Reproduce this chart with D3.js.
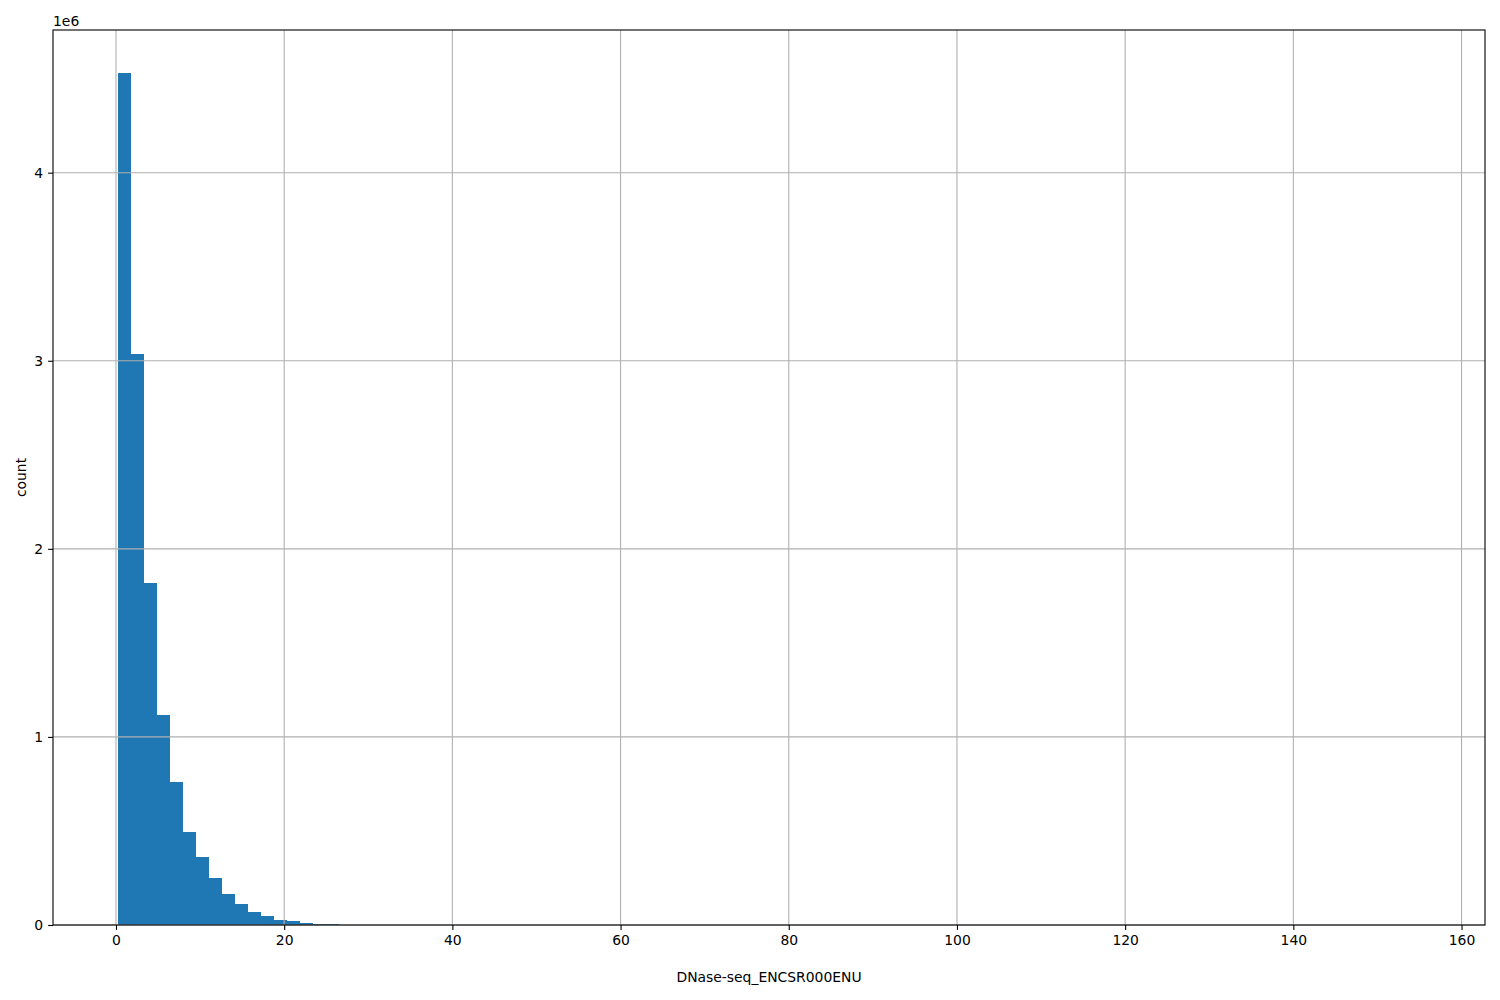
<!DOCTYPE html>
<html><head><meta charset="utf-8">
<script src="https://cdn.jsdelivr.net/npm/d3@7"></script>
<style>body{margin:0;background:#fff}svg{display:block}text{font-family:"DejaVu Sans",sans-serif}</style>
</head><body>
<svg id="c" width="1500" height="1000"></svg>
<script>
// Histogram bins (100 equal bins from binStart, width binWidth); counts per bin
const binStart = 0.25;
const binWidth = 1.548;
const counts = [4532000, 3035000, 1820000, 1116000, 760000, 495000, 362000, 250000, 165000, 112000,
  70000, 48000, 27000, 21000, 10000, 5000, 4000, 2500, 1500, 1000,
  700, 500, 350, 250, 180, 130, 90, 70, 50, 40,
  30, 25, 20, 15, 12, 10, 8, 6, 5, 4,
  3, 3, 2, 2, 2, 1, 1, 1, 1, 1,
  1, 0, 1, 0, 0, 1, 0, 0, 0, 1,
  0, 0, 0, 0, 0, 0, 0, 0, 0, 0,
  0, 0, 0, 0, 0, 0, 0, 0, 0, 0,
  0, 0, 0, 0, 0, 0, 0, 0, 0, 0,
  0, 0, 0, 0, 0, 0, 0, 0, 0, 1];
const xTicks = [0, 20, 40, 60, 80, 100, 120, 140, 160];
const yTicks = [0, 1e6, 2e6, 3e6, 4e6];
const xLabel = "DNase-seq_ENCSR000ENU";
const yLabel = "count";

const svg = d3.select("#c");
const L = 53, R = 1485, T = 30, B = 925;
const xMin = binStart, xMax = binStart + binWidth * counts.length;
const span = xMax - xMin;
const x = d3.scaleLinear().domain([xMin - 0.05 * span, xMax + 0.05 * span]).range([L, R]);
const yMaxV = d3.max(counts) * 1.05;
const y = d3.scaleLinear().domain([0, yMaxV]).range([B, T]);

const bins = counts.map((c, i) => ({x0: binStart + i * binWidth, x1: binStart + (i + 1) * binWidth, c}));

// bars
svg.append("g").selectAll("rect").data(bins).join("rect")
  .attr("x", d => x(d.x0)).attr("width", d => x(d.x1) - x(d.x0))
  .attr("y", d => y(d.c)).attr("height", d => B - y(d.c))
  .attr("fill", "#1f77b4").attr("shape-rendering", "crispEdges");

// grid (drawn above bars like matplotlib pandas hist)
const grid = svg.append("g").attr("stroke", "#b0b0b0").attr("stroke-width", 1.1);
xTicks.forEach(t => grid.append("line").attr("x1", x(t)).attr("x2", x(t)).attr("y1", T).attr("y2", B));
yTicks.forEach(t => grid.append("line").attr("x1", L).attr("x2", R).attr("y1", y(t)).attr("y2", y(t)));

// axes
const xAxis = d3.axisBottom(x).tickValues(xTicks).tickSize(4.9).tickPadding(5).tickFormat(d3.format("d"));
const gx = svg.append("g").attr("transform", `translate(0,${B})`).call(xAxis);
const yAxis = d3.axisLeft(y).tickValues(yTicks).tickSize(4.9).tickPadding(5).tickFormat(d => d / 1e6);
const gy = svg.append("g").attr("transform", `translate(${L},0)`).call(yAxis);
[gx, gy].forEach(g => {
  g.select(".domain").remove();
  g.selectAll("text").attr("font-size", 13.9).attr("fill", "#000").style("font-family", "DejaVu Sans");
  g.selectAll("line").attr("stroke", "#000").attr("stroke-width", 1.1);
});

// spines
svg.append("rect").attr("x", L).attr("y", T).attr("width", R - L).attr("height", B - T)
  .attr("fill", "none").attr("stroke", "#000").attr("stroke-width", 1.1);

// labels
svg.append("text").attr("x", (L + R) / 2).attr("y", 982).attr("text-anchor", "middle")
  .attr("font-size", 13.9).text(xLabel);
svg.append("text").attr("transform", `translate(26,${(T + B) / 2}) rotate(-90)`).attr("text-anchor", "middle")
  .attr("font-size", 13.9).text(yLabel);
svg.append("text").attr("x", L).attr("y", 26).attr("font-size", 13.9).text("1e6");
</script>
</body></html>
